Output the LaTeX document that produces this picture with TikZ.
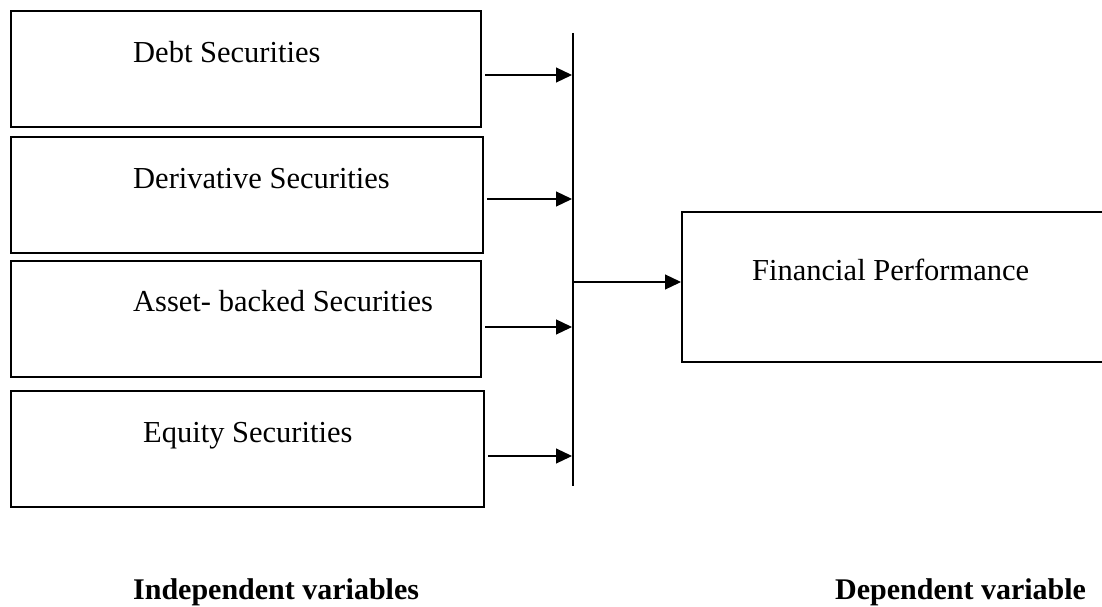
\documentclass[tikz,border=0pt]{standalone}
\usepackage{fontspec}
\setmainfont{Liberation Serif}
\usetikzlibrary{arrows.meta}

\begin{document}
\begin{tikzpicture}[x=1pt,y=-1pt,
  box/.style={draw,line width=2pt,inner sep=0pt},
  lbl/.style={anchor=base west,inner sep=0pt,font=\fontsize{30.5}{36}\selectfont},
  head/.style={anchor=base west,inner sep=0pt,font=\fontsize{30}{36}\selectfont\bfseries},
  feed/.style={line width=1.2pt,-{Triangle[length=16pt,width=15pt]},shorten <=3pt}]
  \clip (0,0) rectangle (1102,607);
  % independent variables
  \node[box,minimum width=470.5pt,minimum height=115.5pt] (debt) at (245.75,69.25) {};
  \node[box,minimum width=472.5pt,minimum height=116pt] (deriv) at (246.75,195) {};
  \node[box,minimum width=470.5pt,minimum height=116pt] (asset) at (245.75,319) {};
  \node[box,minimum width=473.5pt,minimum height=116pt] (equity) at (247.25,449) {};
  \node[lbl] (debt-t) at (133,63) {Debt Securities};
  \node[lbl] (deriv-t) at (133,188) {Derivative Securities};
  \node[lbl] (asset-t) at (133,311) {Asset- backed Securities};
  \node[lbl] (equity-t) at (143,442) {Equity Securities};
  % dependent variable
  \node[box,minimum width=430pt,minimum height=150pt] (fin) at (897,287) {};
  \node[lbl] (fin-t) at (752,280) {Financial Performance};
  % collecting line
  \coordinate (bus-top) at (573,33);
  \coordinate (bus-bot) at (573,486);
  \coordinate (bus-1) at (572,75);
  \coordinate (bus-2) at (572,199);
  \coordinate (bus-3) at (572,327);
  \coordinate (bus-4) at (572,456);
  \coordinate (bus-out) at (573,282);
  \draw[line width=1.2pt] (bus-top) -- (bus-bot);
  \draw[feed] (debt.east |- bus-1) -- (bus-1);
  \draw[feed] (deriv.east |- bus-2) -- (bus-2);
  \draw[feed] (asset.east |- bus-3) -- (bus-3);
  \draw[feed] (equity.east |- bus-4) -- (bus-4);
  \draw[feed,shorten <=0pt] (bus-out) -- (fin.west |- bus-out);
  \node[head] (indep) at (133,599) {Independent variables};
  \node[head] (dep) at (835,599) {Dependent variable};
\end{tikzpicture}
\end{document}
